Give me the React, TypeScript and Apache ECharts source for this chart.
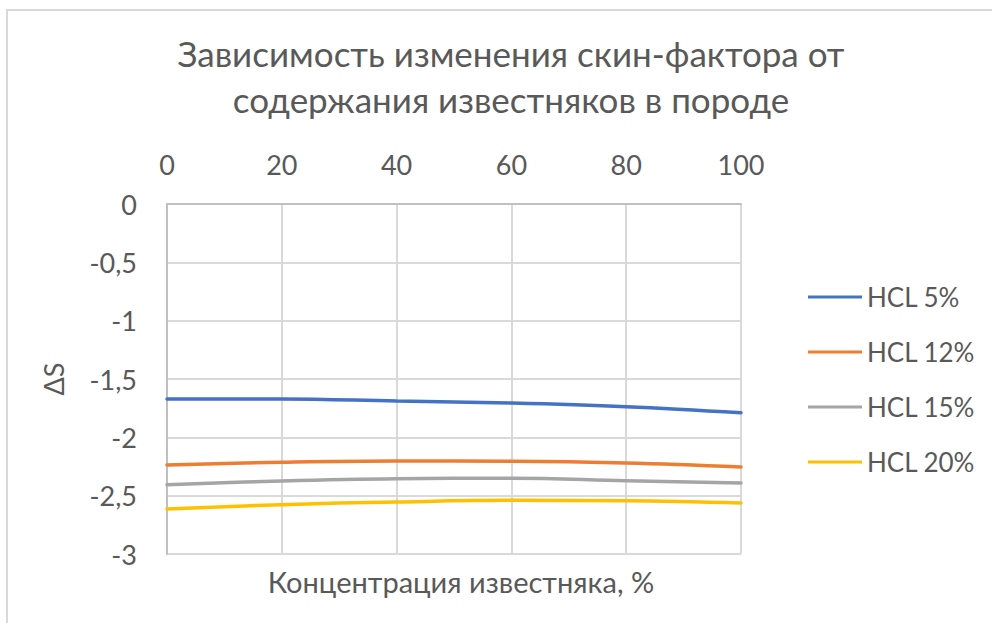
import React, { useEffect, useRef } from "react";
import * as echarts from "echarts";

// Concentration of limestone in the rock, %
const concentration = [0, 20, 40, 60, 80, 100];

// Skin-factor change ΔS for each acid concentration
const hcl5 = [-1.671, -1.671, -1.689, -1.706, -1.737, -1.789];
const hcl12 = [-2.237, -2.214, -2.203, -2.205, -2.22, -2.254];
const hcl15 = [-2.406, -2.374, -2.355, -2.351, -2.372, -2.391];
const hcl20 = [-2.614, -2.577, -2.554, -2.54, -2.543, -2.563];

const seriesNames = ["HCL 5%", "HCL 12%", "HCL 15%", "HCL 20%"];
const seriesValues = [hcl5, hcl12, hcl15, hcl20];
const seriesColors = ["#4472C4", "#ED7D31", "#A5A5A5", "#FFC000"];

const FONT = "Lato, 'Noto Sans', sans-serif";
const TEXT = "#595959";

export default function App() {
  const ref = useRef<HTMLDivElement>(null);

  useEffect(() => {
    if (!ref.current) return;
    const chart = echarts.init(ref.current, undefined, { renderer: "svg" });

    chart.setOption({
      animation: false,
      backgroundColor: "#ffffff",
      textStyle: { fontFamily: FONT },
      title: [
        {
          text: "Зависимость изменения скин-фактора от\nсодержания известняков в породе",
          left: 506,
          top: 25,
          textAlign: "center",
          textStyle: {
            fontFamily: FONT,
            fontSize: 35,
            fontWeight: "normal",
            color: TEXT,
            lineHeight: 46,
          },
        },
        {
          text: "Концентрация известняка, %",
          left: 456,
          top: 562,
          textAlign: "center",
          textStyle: {
            fontFamily: FONT,
            fontSize: 29,
            fontWeight: "normal",
            color: TEXT,
          },
        },
      ],
      graphic: [
        {
          type: "rect",
          shape: { x: 7, y: 10, width: 1100, height: 800 },
          style: { fill: "none", stroke: "#d9d9d9", lineWidth: 2 },
          silent: true,
        },
      ],
      legend: {
        orient: "vertical",
        left: 803,
        top: 277,
        icon: "rect",
        itemWidth: 54,
        itemHeight: 3,
        itemGap: 25,
        data: seriesNames,
        textStyle: {
          fontFamily: FONT,
          fontSize: 26,
          color: TEXT,
          lineHeight: 30,
        },
      },
      grid: { left: 167, top: 204, right: 251, bottom: 69, containLabel: false },
      xAxis: {
        type: "value",
        position: "top",
        min: 0,
        max: 100,
        interval: 20,
        axisLine: { show: true, lineStyle: { color: "#bfbfbf", width: 2 } },
        axisTick: { show: false },
        axisLabel: { fontSize: 27, color: TEXT, fontFamily: FONT, margin: 26 },
        splitLine: { show: true, lineStyle: { color: "#d9d9d9", width: 2 } },
      },
      yAxis: {
        type: "value",
        min: -3,
        max: 0,
        interval: 0.5,
        name: "ΔS",
        nameLocation: "middle",
        nameRotate: 90,
        nameGap: 100,
        nameTextStyle: { fontSize: 27, color: TEXT, fontFamily: FONT },
        axisLine: { show: true, lineStyle: { color: "#bfbfbf", width: 2 } },
        axisTick: { show: false },
        axisLabel: {
          fontSize: 27,
          color: TEXT,
          fontFamily: FONT,
          margin: 30,
          formatter: (v: number) => String(v).replace(".", ","),
        },
        splitLine: { show: true, lineStyle: { color: "#d9d9d9", width: 2 } },
      },
      series: seriesNames.map((name, i) => ({
        name,
        type: "line",
        smooth: 0.4,
        symbol: "none",
        data: concentration.map((c, j) => [c, seriesValues[i][j]]),
        lineStyle: { color: seriesColors[i], width: 3.5, cap: "round" },
        itemStyle: { color: seriesColors[i] },
      })),
    });

    return () => chart.dispose();
  }, []);

  return (
    <div
      ref={ref}
      style={{ position: "fixed", left: 0, top: 0, width: 992, height: 623 }}
    />
  );
}
